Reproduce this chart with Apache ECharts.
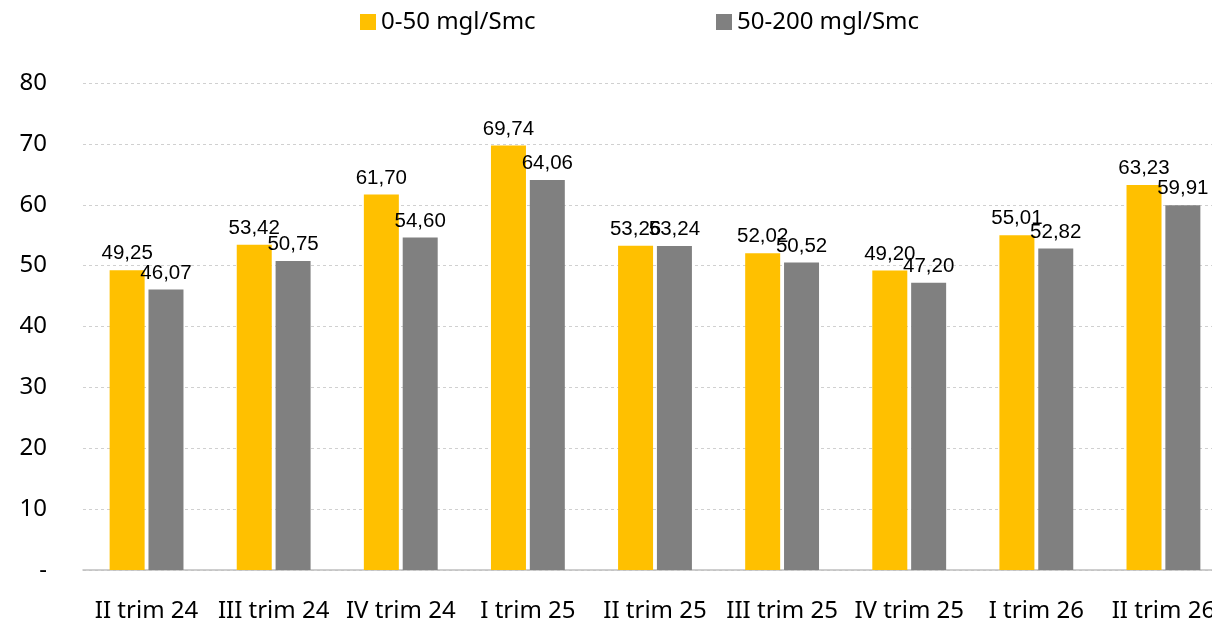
<!DOCTYPE html>
<html><head><meta charset="utf-8">
<script src="https://cdn.jsdelivr.net/npm/echarts@6/dist/echarts.min.js"></script>
<style>html,body{margin:0;padding:0;background:#fff}#c{width:1212px;height:623px}</style>
</head><body><div id="c"></div>
<script>
const categories = ["II trim 24","III trim 24","IV trim 24","I trim 25","II trim 25","III trim 25","IV trim 25","I trim 26","II trim 26"];
const seriesNames = ["0-50 mgl/Smc","50-200 mgl/Smc"];
const valuesLow = [49.25,53.42,61.70,69.74,53.26,52.02,49.20,55.01,63.23];
const valuesHigh = [46.07,50.75,54.60,64.06,53.24,50.52,47.20,52.82,59.91];
const colors = ["#FFC000","#808080"];

const chart = echarts.init(document.getElementById('c'), null, {renderer:'canvas'});
const fmt = p => p.value.toFixed(2).replace('.', ',');
const lbl = {show:true, position:'top', distance:6, formatter:fmt, fontFamily:'Liberation Sans, Arial', fontSize:20.5, color:'#000'};
chart.setOption({
  animation:false,
  legend:[
    {data:[seriesNames[0]], left:355, top:5, itemWidth:16, itemHeight:16, icon:'rect', itemGap:0,
     textStyle:{fontFamily:'Noto Sans', fontSize:24, color:'#000'}},
    {data:[seriesNames[1]], left:711, top:5, itemWidth:16, itemHeight:16, icon:'rect', itemGap:0,
     textStyle:{fontFamily:'Noto Sans', fontSize:24, color:'#000'}}
  ],
  grid:{left:83, top:83, width:1144, height:487, containLabel:false, outerBoundsMode:'none'},
  xAxis:{type:'category', data:categories,
    axisLine:{lineStyle:{color:'#bfbfbf', width:1.5}}, axisTick:{show:false},
    axisLabel:{fontFamily:'Noto Sans', fontSize:24, color:'#000', margin:29, interval:0}},
  yAxis:{type:'value', min:0, max:80, interval:10,
    axisLine:{show:false}, axisTick:{show:false},
    splitLine:{lineStyle:{color:'#d0d0d0', type:[3,3]}},
    axisLabel:{fontFamily:'Noto Sans', fontSize:24, color:'#000', margin:36,
      formatter:v => v === 0 ? '-' : String(v)}},
  series:[
    {name:seriesNames[0], type:'bar', data:valuesLow, barWidth:35, barGap:'11%',
     itemStyle:{color:colors[0]}, label:lbl},
    {name:seriesNames[1], type:'bar', data:valuesHigh, barWidth:35, barGap:'11%',
     itemStyle:{color:colors[1]}, label:lbl}
  ]
});
</script></body></html>
